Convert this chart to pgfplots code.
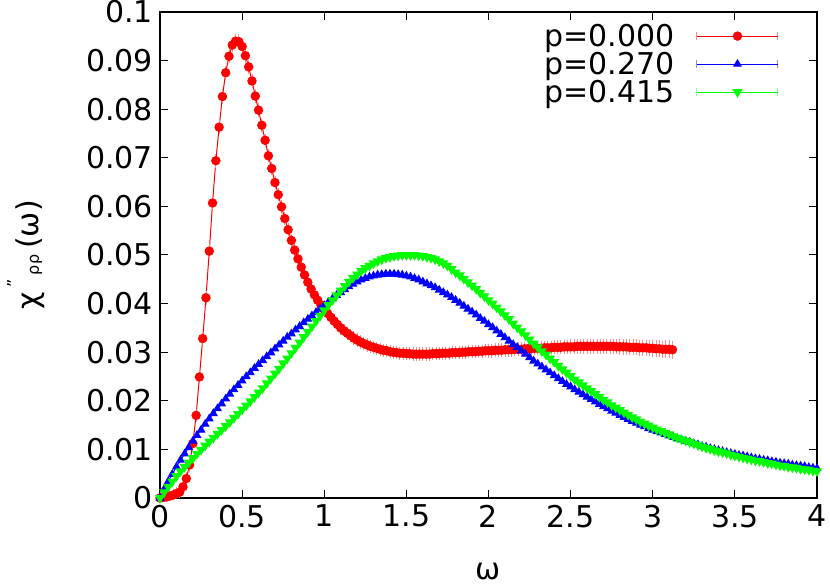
\documentclass[border=0pt]{standalone}
\usepackage{fontspec}
\setmainfont{DejaVu Sans}
\usepackage{pgfplots}
\usepackage{pgfplotstable}
\pgfplotsset{compat=1.18}
\usetikzlibrary{calc}

% p = 0.000 : omega, chi'', error
\pgfplotstableread{
x y e
0.00 0.0000 0.0001
0.02 0.0001 0.0001
0.04 0.0002 0.0001
0.06 0.0004 0.0001
0.08 0.0006 0.0001
0.10 0.0009 0.0002
0.12 0.0012 0.0002
0.14 0.0023 0.0002
0.16 0.0040 0.0002
0.18 0.0068 0.0003
0.20 0.0112 0.0003
0.22 0.0170 0.0003
0.24 0.0249 0.0003
0.26 0.0328 0.0003
0.28 0.0412 0.0004
0.30 0.0508 0.0004
0.32 0.0607 0.0004
0.34 0.0694 0.0004
0.36 0.0763 0.0004
0.38 0.0826 0.0004
0.40 0.0875 0.0004
0.42 0.0909 0.0004
0.44 0.0932 0.0004
0.46 0.0940 0.0004
0.48 0.0939 0.0004
0.50 0.0929 0.0004
0.52 0.0910 0.0004
0.54 0.0887 0.0004
0.56 0.0858 0.0004
0.58 0.0827 0.0004
0.60 0.0798 0.0003
0.62 0.0767 0.0003
0.64 0.0736 0.0003
0.66 0.0704 0.0003
0.68 0.0678 0.0003
0.70 0.0649 0.0003
0.72 0.0624 0.0003
0.74 0.0599 0.0003
0.76 0.0575 0.0003
0.78 0.0552 0.0003
0.80 0.0530 0.0003
0.82 0.0510 0.0003
0.84 0.0492 0.0003
0.86 0.0475 0.0003
0.88 0.0459 0.0003
0.90 0.0444 0.0003
0.92 0.0430 0.0003
0.94 0.0418 0.0003
0.96 0.0407 0.0003
0.98 0.0397 0.0003
1.00 0.0388 0.0003
1.02 0.0380 0.0003
1.04 0.0372 0.0003
1.06 0.0364 0.0003
1.08 0.0357 0.0003
1.10 0.0350 0.0003
1.12 0.0344 0.0003
1.14 0.0339 0.0003
1.16 0.0334 0.0003
1.18 0.0329 0.0003
1.20 0.0325 0.0003
1.22 0.0321 0.0003
1.24 0.0318 0.0003
1.26 0.0315 0.0003
1.28 0.0312 0.0003
1.30 0.0310 0.0003
1.32 0.0308 0.0003
1.34 0.0306 0.0003
1.36 0.0304 0.0003
1.38 0.0303 0.0003
1.40 0.0301 0.0003
1.42 0.0300 0.0003
1.44 0.0299 0.0003
1.46 0.0298 0.0003
1.48 0.0298 0.0003
1.50 0.0297 0.0003
1.52 0.0297 0.0003
1.54 0.0296 0.0003
1.56 0.0296 0.0003
1.58 0.0296 0.0003
1.60 0.0296 0.0003
1.62 0.0296 0.0003
1.64 0.0296 0.0003
1.66 0.0297 0.0003
1.68 0.0297 0.0003
1.70 0.0297 0.0003
1.72 0.0298 0.0003
1.74 0.0298 0.0003
1.76 0.0298 0.0003
1.78 0.0299 0.0003
1.80 0.0299 0.0003
1.82 0.0299 0.0003
1.84 0.0300 0.0003
1.86 0.0300 0.0003
1.88 0.0301 0.0003
1.90 0.0301 0.0003
1.92 0.0301 0.0003
1.94 0.0302 0.0003
1.96 0.0302 0.0003
1.98 0.0303 0.0003
2.00 0.0303 0.0004
2.02 0.0303 0.0004
2.04 0.0304 0.0004
2.06 0.0304 0.0004
2.08 0.0304 0.0004
2.10 0.0305 0.0004
2.12 0.0305 0.0004
2.14 0.0305 0.0004
2.16 0.0306 0.0004
2.18 0.0306 0.0004
2.20 0.0306 0.0004
2.22 0.0307 0.0004
2.24 0.0307 0.0004
2.26 0.0307 0.0004
2.28 0.0308 0.0004
2.30 0.0308 0.0004
2.32 0.0308 0.0004
2.34 0.0309 0.0004
2.36 0.0309 0.0004
2.38 0.0309 0.0004
2.40 0.0310 0.0004
2.42 0.0310 0.0004
2.44 0.0310 0.0004
2.46 0.0311 0.0004
2.48 0.0311 0.0004
2.50 0.0311 0.0005
2.52 0.0311 0.0005
2.54 0.0312 0.0005
2.56 0.0312 0.0005
2.58 0.0312 0.0005
2.60 0.0312 0.0005
2.62 0.0312 0.0005
2.64 0.0312 0.0005
2.66 0.0312 0.0005
2.68 0.0312 0.0005
2.70 0.0312 0.0005
2.72 0.0312 0.0005
2.74 0.0312 0.0005
2.76 0.0312 0.0005
2.78 0.0311 0.0005
2.80 0.0311 0.0006
2.82 0.0311 0.0006
2.84 0.0311 0.0006
2.86 0.0310 0.0006
2.88 0.0310 0.0006
2.90 0.0310 0.0006
2.92 0.0309 0.0006
2.94 0.0309 0.0006
2.96 0.0309 0.0006
2.98 0.0308 0.0006
3.00 0.0308 0.0007
3.02 0.0307 0.0007
3.04 0.0307 0.0007
3.06 0.0306 0.0007
3.08 0.0306 0.0008
3.10 0.0306 0.0008
3.12 0.0305 0.0008
}\pzero

% p = 0.270
\pgfplotstableread{
x y
0.000 0.0000
0.025 0.0018
0.050 0.0034
0.075 0.0049
0.100 0.0064
0.125 0.0078
0.150 0.0091
0.175 0.0104
0.200 0.0117
0.225 0.0129
0.250 0.0140
0.275 0.0152
0.300 0.0163
0.325 0.0174
0.350 0.0184
0.375 0.0194
0.400 0.0204
0.425 0.0214
0.450 0.0223
0.475 0.0232
0.500 0.0241
0.525 0.0250
0.550 0.0258
0.575 0.0267
0.600 0.0275
0.625 0.0283
0.650 0.0291
0.675 0.0299
0.700 0.0307
0.725 0.0315
0.750 0.0323
0.775 0.0331
0.800 0.0338
0.825 0.0346
0.850 0.0353
0.875 0.0361
0.900 0.0368
0.925 0.0375
0.950 0.0382
0.975 0.0389
1.000 0.0396
1.025 0.0403
1.050 0.0410
1.075 0.0417
1.100 0.0423
1.125 0.0429
1.150 0.0435
1.175 0.0440
1.200 0.0445
1.225 0.0449
1.250 0.0452
1.275 0.0455
1.300 0.0457
1.325 0.0459
1.350 0.0460
1.375 0.0461
1.400 0.0461
1.425 0.0461
1.450 0.0460
1.475 0.0459
1.500 0.0457
1.525 0.0455
1.550 0.0452
1.575 0.0449
1.600 0.0445
1.625 0.0441
1.650 0.0437
1.675 0.0433
1.700 0.0428
1.725 0.0423
1.750 0.0418
1.775 0.0413
1.800 0.0407
1.825 0.0401
1.850 0.0395
1.875 0.0389
1.900 0.0383
1.925 0.0377
1.950 0.0370
1.975 0.0364
2.000 0.0357
2.025 0.0351
2.050 0.0344
2.075 0.0337
2.100 0.0330
2.125 0.0323
2.150 0.0316
2.175 0.0310
2.200 0.0303
2.225 0.0296
2.250 0.0289
2.275 0.0282
2.300 0.0276
2.325 0.0270
2.350 0.0264
2.375 0.0258
2.400 0.0252
2.425 0.0246
2.450 0.0240
2.475 0.0234
2.500 0.0229
2.525 0.0223
2.550 0.0218
2.575 0.0213
2.600 0.0208
2.625 0.0203
2.650 0.0198
2.675 0.0193
2.700 0.0188
2.725 0.0184
2.750 0.0179
2.775 0.0175
2.800 0.0170
2.825 0.0166
2.850 0.0162
2.875 0.0158
2.900 0.0154
2.925 0.0150
2.950 0.0147
2.975 0.0143
3.000 0.0140
3.025 0.0137
3.050 0.0134
3.075 0.0131
3.100 0.0128
3.125 0.0125
3.150 0.0122
3.175 0.0120
3.200 0.0117
3.225 0.0115
3.250 0.0112
3.275 0.0110
3.300 0.0107
3.325 0.0105
3.350 0.0102
3.375 0.0100
3.400 0.0098
3.425 0.0096
3.450 0.0094
3.475 0.0092
3.500 0.0090
3.525 0.0088
3.550 0.0087
3.575 0.0085
3.600 0.0083
3.625 0.0081
3.650 0.0080
3.675 0.0078
3.700 0.0077
3.725 0.0075
3.750 0.0074
3.775 0.0072
3.800 0.0071
3.825 0.0070
3.850 0.0068
3.875 0.0067
3.900 0.0066
3.925 0.0065
3.950 0.0063
3.975 0.0062
4.000 0.0061
}\pmid

% p = 0.415
\pgfplotstableread{
x y
0.000 0.0000
0.025 0.0012
0.050 0.0023
0.075 0.0034
0.100 0.0045
0.125 0.0055
0.150 0.0064
0.175 0.0073
0.200 0.0082
0.225 0.0091
0.250 0.0099
0.275 0.0108
0.300 0.0116
0.325 0.0124
0.350 0.0132
0.375 0.0140
0.400 0.0148
0.425 0.0156
0.450 0.0165
0.475 0.0173
0.500 0.0182
0.525 0.0190
0.550 0.0199
0.575 0.0208
0.600 0.0217
0.625 0.0226
0.650 0.0236
0.675 0.0246
0.700 0.0256
0.725 0.0266
0.750 0.0277
0.775 0.0287
0.800 0.0298
0.825 0.0309
0.850 0.0320
0.875 0.0331
0.900 0.0342
0.925 0.0353
0.950 0.0364
0.975 0.0375
1.000 0.0386
1.025 0.0397
1.050 0.0407
1.075 0.0417
1.100 0.0427
1.125 0.0436
1.150 0.0445
1.175 0.0453
1.200 0.0460
1.225 0.0467
1.250 0.0473
1.275 0.0478
1.300 0.0483
1.325 0.0487
1.350 0.0491
1.375 0.0494
1.400 0.0496
1.425 0.0498
1.450 0.0499
1.475 0.0500
1.500 0.0500
1.525 0.0500
1.550 0.0500
1.575 0.0499
1.600 0.0498
1.625 0.0496
1.650 0.0494
1.675 0.0491
1.700 0.0487
1.725 0.0483
1.750 0.0478
1.775 0.0471
1.800 0.0464
1.825 0.0458
1.850 0.0451
1.875 0.0444
1.900 0.0437
1.925 0.0430
1.950 0.0422
1.975 0.0415
2.000 0.0407
2.025 0.0400
2.050 0.0392
2.075 0.0384
2.100 0.0376
2.125 0.0368
2.150 0.0359
2.175 0.0351
2.200 0.0343
2.225 0.0335
2.250 0.0326
2.275 0.0318
2.300 0.0310
2.325 0.0302
2.350 0.0295
2.375 0.0287
2.400 0.0280
2.425 0.0272
2.450 0.0265
2.475 0.0258
2.500 0.0251
2.525 0.0244
2.550 0.0238
2.575 0.0232
2.600 0.0226
2.625 0.0220
2.650 0.0214
2.675 0.0208
2.700 0.0202
2.725 0.0197
2.750 0.0191
2.775 0.0186
2.800 0.0181
2.825 0.0176
2.850 0.0171
2.875 0.0166
2.900 0.0162
2.925 0.0157
2.950 0.0153
2.975 0.0149
3.000 0.0145
3.025 0.0141
3.050 0.0138
3.075 0.0134
3.100 0.0131
3.125 0.0127
3.150 0.0124
3.175 0.0121
3.200 0.0118
3.225 0.0115
3.250 0.0112
3.275 0.0109
3.300 0.0106
3.325 0.0103
3.350 0.0101
3.375 0.0098
3.400 0.0096
3.425 0.0094
3.450 0.0092
3.475 0.0089
3.500 0.0087
3.525 0.0085
3.550 0.0083
3.575 0.0081
3.600 0.0079
3.625 0.0077
3.650 0.0076
3.675 0.0074
3.700 0.0072
3.725 0.0071
3.750 0.0069
3.775 0.0067
3.800 0.0066
3.825 0.0064
3.850 0.0063
3.875 0.0062
3.900 0.0060
3.925 0.0059
3.950 0.0058
3.975 0.0056
4.000 0.0055
}\phigh

\newcommand{\lbl}{\fontsize{15}{18}\selectfont}

\begin{document}
\begin{tikzpicture}
\begin{axis}[name=ax,
  scale only axis, width=328.5pt, height=243pt,
  xmin=0, xmax=4, ymin=0, ymax=0.1,
  xtick={0,0.5,1,1.5,2,2.5,3,3.5,4},
  ytick={0,0.01,0.02,0.03,0.04,0.05,0.06,0.07,0.08,0.09,0.1},
  scaled y ticks=false,
  yticklabel style={/pgf/number format/fixed, /pgf/number format/precision=2},
  /pgf/number format/assume math mode=true,
  tick align=inside, major tick length=4pt,
  every tick/.style={black, line width=0.5pt},
  axis line style={line width=1pt},
  tick label style={font=\lbl},
  label style={font=\lbl},
  xlabel={ω},
  ylabel={χ\hspace{2.5pt}\raisebox{10pt}{\fontsize{8}{8}\selectfont\char"22}\hspace{2pt}{\fontsize{8}{8}\selectfont ρρ}\hspace{3pt}(ω)},
  xlabel style={at={(axis description cs:0.5,-0.1667)}, anchor=base},
  ylabel style={at={(axis description cs:-0.1842,0.5)}, anchor=base},
  legend plot pos=right,
  legend cell align=right,
  legend style={draw=none, fill=none, at={(0.942,0.98)}, anchor=north east,
    inner sep=0pt, row sep=0pt, column sep=11pt, font=\lbl,
    nodes={inner sep=0pt, text height=12.4pt, text depth=1.6pt}},
  legend image code/.code={
    \draw[#1, mark repeat=2, mark phase=2] plot coordinates {(0pt,0pt) (20.25pt,0pt) (40.5pt,0pt)};
    \draw[#1, mark=none, opacity=0.45] (0pt,-2pt) -- (0pt,2pt) (40.5pt,-2pt) -- (40.5pt,2pt);
  },
]
\addplot[red, line width=0.5pt, mark=*, mark size=2.1pt,
  error bars/.cd, y dir=both, y explicit,
  error bar style={red!45, line width=0.4pt},
  error mark options={red!45, mark size=2.6pt, line width=0.4pt}]
  table[x=x, y=y, y error=e] {\pzero};
\addlegendentry{p=0.000}
\addplot[blue, line width=0.5pt, mark=triangle*, mark size=2.1pt]
  table[x=x, y=y] {\pmid};
\addlegendentry{p=0.270}
\addplot[green, line width=0.5pt, mark=triangle*, mark size=2.4pt, mark options={rotate=180}]
  table[x=x, y=y] {\phigh};
\addlegendentry{p=0.415}
\end{axis}
\pgfresetboundingbox
\path ($(ax.south west)+(-80pt,-44pt)$) rectangle ($(ax.north east)+(6.5pt,6pt)$);
\end{tikzpicture}
\end{document}
